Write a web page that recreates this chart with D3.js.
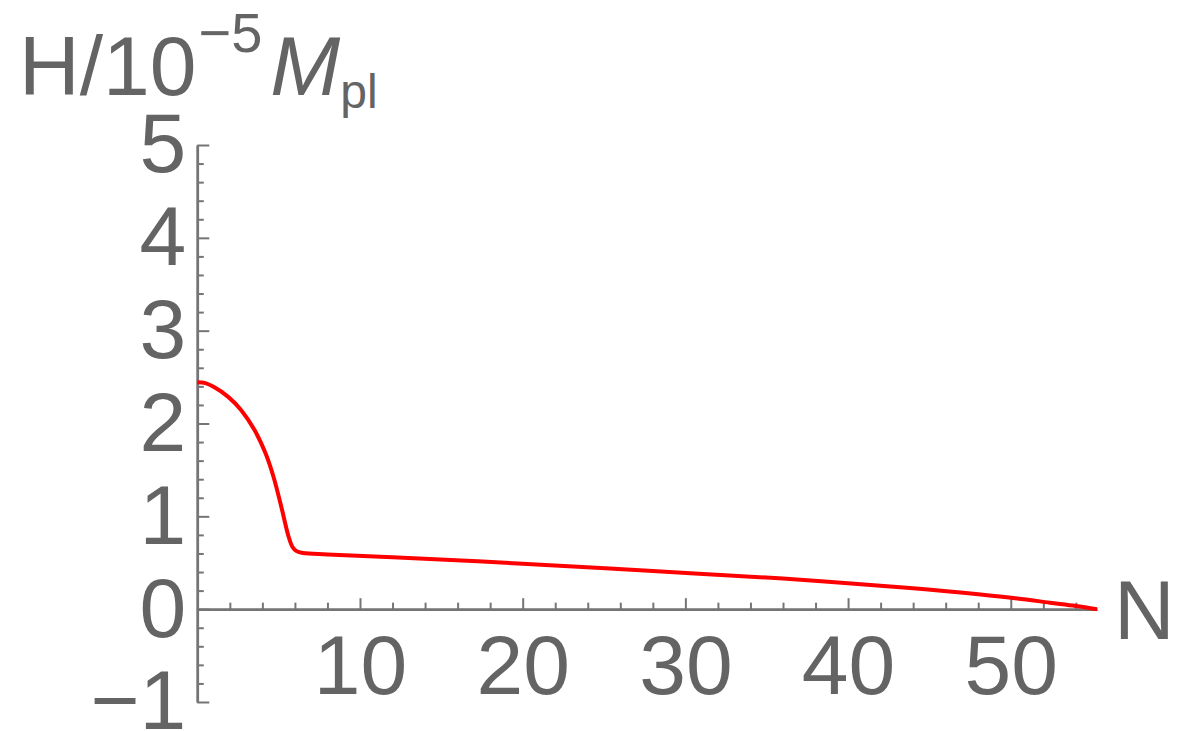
<!DOCTYPE html>
<html>
<head>
<meta charset="utf-8">
<script src="https://cdn.jsdelivr.net/npm/d3@7"></script>
<style>
    html, body { margin: 0; padding: 0; background: #fff; }
    svg { display: block; font-family: "Liberation Sans", Arial, sans-serif; }
</style>
</head>
<body>
<svg id="chart" width="1178" height="731"></svg>
<script>
// H(N), in units of 1e-5 Mpl
const nValues = [0, 0.5, 1.0, 1.9, 2.7, 3.5, 4.2, 4.7, 5.2, 5.6, 5.85, 6.1, 6.5, 8, 12, 20, 28, 36, 44, 48, 50.4, 52.4, 54, 55.3];
const hValues = [2.445, 2.435, 2.395, 2.287, 2.143, 1.935, 1.676, 1.416, 1.076, 0.788, 0.67, 0.625, 0.605, 0.59, 0.56, 0.49, 0.41, 0.33, 0.225, 0.16, 0.115, 0.07, 0.035, 0];

const xMajorTicks = [10, 20, 30, 40, 50];
const yMajorTicks = [-1, 0, 1, 2, 3, 4, 5];

const textColor = '#646464';
const axisColor = '#757575';

const svg = d3.select('#chart');

const x = d3.scaleLinear().domain([0, 55.3]).range([197.3, 1097]);
const y = d3.scaleLinear().domain([-1, 5]).range([702, 145]);

const xMinor = d3.range(2, 55, 2).filter(v => v % 10 !== 0);
const yMinor = d3.range(-1, 5.001, 0.2).map(v => Math.round(v * 10) / 10).filter(v => !Number.isInteger(v));

function styleAxis(g) {
    g.selectAll('path').attr('stroke', axisColor).attr('stroke-width', 2.5);
    g.selectAll('line').attr('stroke', axisColor).attr('stroke-width', 2);
    g.selectAll('text').attr('fill', textColor).attr('font-size', 84).attr('font-family', '"Liberation Sans", Arial, sans-serif');
}

// minor ticks first
svg.append('g')
    .attr('transform', `translate(0,${ y(0) })`)
    .call(d3.axisBottom(x).tickValues(xMinor).tickSizeInner(-6.5).tickSizeOuter(0).tickFormat(''))
    .call(styleAxis);
svg.append('g')
    .attr('transform', `translate(${ x(0) },0)`)
    .call(d3.axisLeft(y).tickValues(yMinor).tickSizeInner(-6.5).tickSizeOuter(0).tickFormat(''))
    .call(styleAxis);

// major ticks with labels
svg.append('g')
    .attr('transform', `translate(0,${ y(0) })`)
    .call(d3.axisBottom(x).tickValues(xMajorTicks).tickSizeInner(-11).tickSizeOuter(0).tickPadding(25).tickFormat(d3.format('d')))
    .call(styleAxis);
svg.append('g')
    .attr('transform', `translate(${ x(0) },0)`)
    .call(d3.axisLeft(y).tickValues(yMajorTicks).tickSizeInner(-12).tickSizeOuter(0).tickPadding(11).tickFormat(d3.format('d')))
    .call(styleAxis);

// curve
const line = d3.line()
    .x((d, i) => x(nValues[i]))
    .y(d => y(d))
    .curve(d3.curveCatmullRom.alpha(0.5));

svg.append('path')
    .datum(hValues)
    .attr('fill', 'none')
    .attr('stroke', '#ff0000')
    .attr('stroke-width', 4)
    .attr('stroke-linejoin', 'round')
    .attr('d', line);

// axis labels
const yLabel = svg.append('text')
    .attr('x', 19)
    .attr('y', 95)
    .attr('fill', textColor)
    .attr('font-size', 84);
yLabel.append('tspan').text('H/10');
yLabel.append('tspan').attr('font-size', 56).attr('dy', -43).attr('dx', 2).text('\u22125');
yLabel.append('tspan').attr('font-size', 84).attr('dy', 43).attr('dx', 8).attr('font-style', 'italic').text('M');
yLabel.append('tspan').attr('font-size', 48).attr('dy', 13).text('pl');

svg.append('text')
    .attr('x', 1114)
    .attr('y', y(0))
    .attr('dy', '0.36em')
    .attr('fill', textColor)
    .attr('font-size', 84)
    .text('N');
</script>
</body>
</html>
